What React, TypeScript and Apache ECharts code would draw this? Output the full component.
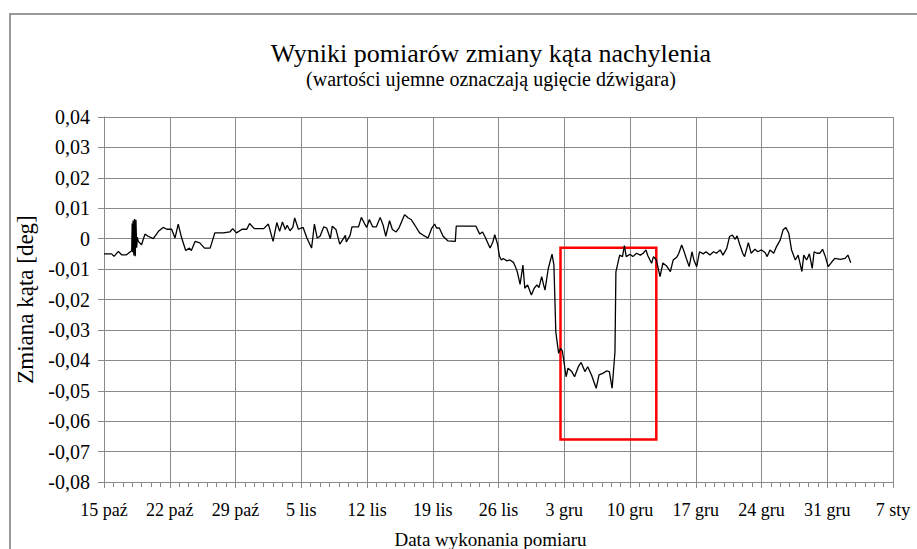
import React, { useEffect, useRef } from "react";
import * as echarts from "echarts";

// Day offsets from 15 paź (day 0) and measured angle changes [deg]
const days: number[] = [
  0.0, 0.5, 0.8, 1.07, 1.53, 1.88, 2.4, 2.77, 2.95, 3.0, 3.05, 3.1, 3.18, 3.25, 3.33, 3.4, 3.48, 3.55, 3.65, 4.0,
  4.36, 4.7, 5.25, 5.8, 6.3, 6.7, 7.2, 7.56, 7.9, 8.27, 8.7, 9.1, 9.3, 9.7, 10.2, 10.7, 11.3, 11.8, 12.7, 13.4,
  13.7, 14.1, 14.7, 15.2, 15.5, 16.0, 17.0, 17.5, 18.0, 18.4, 18.7, 19.0, 19.3, 19.5, 19.8, 20.1, 20.3, 20.7, 21.2, 21.6,
  22.1, 22.4, 22.7, 23.0, 23.4, 23.7, 24.1, 24.3, 24.7, 25.1, 25.3, 25.7, 25.8, 26.2, 26.4, 27.1, 27.4, 27.8, 27.97, 28.25,
  28.6, 29.0, 29.4, 29.7, 30.0, 30.4, 30.7, 31.1, 31.4, 32.0, 32.4, 32.7, 33.1, 33.6, 34.0, 34.5, 34.9, 35.2, 35.4, 35.7,
  36.1, 36.6, 37.4, 37.5, 39.6, 40.0, 40.3, 40.6, 41.1, 41.4, 41.6, 41.9, 42.1, 42.3, 42.5, 42.9, 43.2, 43.6, 43.8, 44.0,
  44.3, 44.6, 44.8, 45.1, 45.5, 45.8, 46.1, 46.3, 46.6, 46.8, 46.95, 47.3, 47.7, 47.9, 48.1, 48.4, 48.6, 48.8, 49.2, 49.4,
  49.8, 50.1, 50.5, 50.8, 51.2, 51.5, 51.9, 52.4, 52.7, 53.1, 53.5, 53.8, 54.1, 54.4, 54.5, 54.9, 55.2, 55.4, 55.6, 56.0,
  56.3, 56.7, 57.1, 57.4, 57.7, 57.9, 58.3, 58.5, 58.8, 59.2, 59.5, 59.9, 60.3, 60.6, 61.0, 61.2, 61.5, 61.7, 62.0, 62.3,
  62.6, 62.8, 63.1, 63.4, 63.8, 64.1, 64.5, 64.9, 65.2, 65.6, 65.9, 66.3, 66.6, 66.9, 67.2, 67.4, 67.7, 68.0, 68.2, 68.6,
  68.9, 69.3, 69.6, 70.0, 70.4, 70.6, 70.9, 71.3, 71.6, 72.0, 72.3, 72.6, 72.9, 73.2, 73.6, 73.9, 74.1, 74.3, 74.5, 74.8,
  75.1, 75.4, 75.6, 75.9, 76.2, 76.5, 76.8, 77.1, 77.5, 77.8, 78.4, 78.9, 79.2, 79.5,
];

const values: number[] = [
  -0.0050, -0.0050, -0.0050, -0.0058, -0.0042, -0.0053, -0.0053, -0.0044, -0.0040, 0.0050, -0.0045, 0.0060, -0.0055, 0.0065, -0.0058, 0.0062, -0.0030, 0.0005, -0.0009, -0.0020,
  0.0015, 0.0008, 0.0000, 0.0024, 0.0037, 0.0031, 0.0031, 0.0002, 0.0048, 0.0002, -0.0039, -0.0031, -0.0039, -0.0009, -0.0014, -0.0031, -0.0031, 0.0019, 0.0019, 0.0022,
  0.0033, 0.0019, 0.0031, 0.0031, 0.0050, 0.0033, 0.0033, 0.0048, -0.0009, 0.0053, 0.0024, 0.0055, 0.0030, 0.0044, 0.0026, 0.0037, 0.0068, 0.0031, 0.0037, 0.0002,
  -0.0031, 0.0048, 0.0002, 0.0008, 0.0039, 0.0035, 0.0000, 0.0041, 0.0030, -0.0018, -0.0009, 0.0011, -0.0011, 0.0011, 0.0039, 0.0039, 0.0070, 0.0046, 0.0037, 0.0063,
  0.0039, 0.0039, 0.0070, 0.0046, 0.0008, 0.0059, 0.0030, 0.0022, 0.0035, 0.0079, 0.0068, 0.0063, 0.0044, 0.0019, 0.0011, 0.0002, 0.0035, 0.0048, 0.0035, 0.0035,
  0.0008, -0.0007, -0.0009, 0.0041, 0.0041, 0.0015, 0.0022, 0.0004, -0.0031, -0.0011, 0.0013, -0.0018, -0.0058, -0.0070, -0.0065, -0.0073, -0.0070, -0.0078, -0.0092, -0.0109,
  -0.0150, -0.0087, -0.0163, -0.0152, -0.0185, -0.0163, -0.0152, -0.0161, -0.0125, -0.0152, -0.0169, -0.0098, -0.0051, -0.0087, -0.0306, -0.0377, -0.0361, -0.0369, -0.0454, -0.0426,
  -0.0437, -0.0454, -0.0421, -0.0407, -0.0437, -0.0421, -0.0448, -0.0492, -0.0448, -0.0443, -0.0435, -0.0437, -0.0492, -0.0372, -0.0109, -0.0054, -0.0059, -0.0023, -0.0059, -0.0051,
  -0.0059, -0.0048, -0.0054, -0.0048, -0.0037, -0.0056, -0.0081, -0.0059, -0.0070, -0.0125, -0.0080, -0.0090, -0.0108, -0.0070, -0.0060, -0.0048, -0.0021, -0.0037, -0.0065, -0.0092,
  -0.0043, -0.0070, -0.0092, -0.0043, -0.0050, -0.0043, -0.0054, -0.0043, -0.0048, -0.0037, -0.0054, -0.0032, 0.0007, 0.0012, -0.0002, 0.0009, -0.0021, -0.0048, -0.0059, -0.0013,
  -0.0048, -0.0035, -0.0043, -0.0037, -0.0046, -0.0059, -0.0037, -0.0048, -0.0026, -0.0004, 0.0029, 0.0037, 0.0018, -0.0037, -0.0070, -0.0054, -0.0081, -0.0108, -0.0054, -0.0070,
  -0.0050, -0.0098, -0.0043, -0.0048, -0.0048, -0.0035, -0.0059, -0.0092, -0.0076, -0.0065, -0.0068, -0.0065, -0.0054, -0.0079,
];

const xTickLabels: string[] = [
  "15 paź", "22 paź", "29 paź", "5 lis", "12 lis", "19 lis", "26 lis",
  "3 gru", "10 gru", "17 gru", "24 gru", "31 gru", "7 sty",
];

const yTickLabels: string[] = [
  "-0,08", "-0,07", "-0,06", "-0,05", "-0,04", "-0,03", "-0,02", "-0,01", "0", "0,01", "0,02", "0,03", "0,04",
];

// Highlighted region (red frame) in data coordinates
const highlightDays: number[] = [48.6, 58.8];
const highlightValues: number[] = [-0.003, -0.066];

const FONT = '"Liberation Serif", "Times New Roman", serif';
const GRID = "#8a8a8a";

export default function App() {
  const ref = useRef<HTMLDivElement>(null);

  useEffect(() => {
    if (!ref.current) return;
    const chart = echarts.init(ref.current, undefined, { renderer: "svg" });
    const data = days.map((d, i) => [d, values[i]]);
    chart.setOption({
      animation: false,
      backgroundColor: "#ffffff",
      textStyle: { fontFamily: FONT },
      title: {
        text: "Wyniki pomiarów zmiany kąta nachylenia",
        subtext: "(wartości ujemne oznaczają ugięcie dźwigara)",
        left: 486,
        top: 35,
        textAlign: "center",
        itemGap: 3,
        textStyle: { fontFamily: FONT, fontSize: 26, fontWeight: "normal", color: "#000" },
        subtextStyle: { fontFamily: FONT, fontSize: 20, color: "#000" },
      },
      graphic: [
        {
          type: "rect",
          shape: { x: 10, y: 14, width: 1000, height: 1000 },
          style: { fill: "none", stroke: "#999999", lineWidth: 2 },
          silent: true,
        },
      ],
      grid: {
        left: 104,
        right: 24,
        top: 117,
        bottom: 67,
        containLabel: false,
        outerBoundsMode: "none",
      },
      xAxis: {
        type: "value",
        min: 0,
        max: 84,
        interval: 7,
        name: "Data wykonania pomiaru",
        nameLocation: "middle",
        nameGap: 48,
        nameTextStyle: { fontFamily: FONT, fontSize: 19, color: "#000", padding: [0, 16, 0, 0] },
        axisLine: { show: true, onZero: false, lineStyle: { color: GRID, width: 1 } },
        axisTick: { show: true, length: 6, lineStyle: { color: GRID } },
        minorTick: { show: true, splitNumber: 7, length: 5, lineStyle: { color: GRID } },
        splitLine: { show: true, lineStyle: { color: GRID, width: 1 } },
        axisLabel: {
          margin: 19,
          fontFamily: FONT,
          fontSize: 18,
          color: "#000",
          formatter: (v: number) => xTickLabels[Math.round(v / 7)] ?? "",
        },
      },
      yAxis: {
        type: "value",
        min: -0.08,
        max: 0.04,
        interval: 0.01,
        name: "Zmiana kąta [deg]",
        nameLocation: "middle",
        nameGap: 64,
        nameTextStyle: { fontFamily: FONT, fontSize: 23, color: "#000" },
        axisLine: { show: true, onZero: false, lineStyle: { color: GRID, width: 1 } },
        axisTick: { show: true, length: 6, lineStyle: { color: GRID } },
        splitLine: { show: true, lineStyle: { color: GRID, width: 1 } },
        axisLabel: {
          margin: 14,
          fontFamily: FONT,
          fontSize: 20,
          color: "#000",
          formatter: (v: number) => yTickLabels[Math.round((v + 0.08) / 0.01)] ?? "",
        },
      },
      series: [
        {
          type: "line",
          data,
          showSymbol: false,
          symbol: "none",
          lineStyle: { color: "#000000", width: 1.3 },
          markArea: {
            silent: true,
            itemStyle: { color: "rgba(0,0,0,0)", borderColor: "#ff0000", borderWidth: 2.5 },
            data: [
              [
                { xAxis: highlightDays[0], yAxis: highlightValues[0] },
                { xAxis: highlightDays[1], yAxis: highlightValues[1] },
              ],
            ],
          },
        },
      ],
    });
    return () => chart.dispose();
  }, []);

  return (
    <div
      ref={ref}
      style={{ position: "fixed", left: 0, top: 0, width: 917, height: 549, background: "#fff" }}
    />
  );
}
